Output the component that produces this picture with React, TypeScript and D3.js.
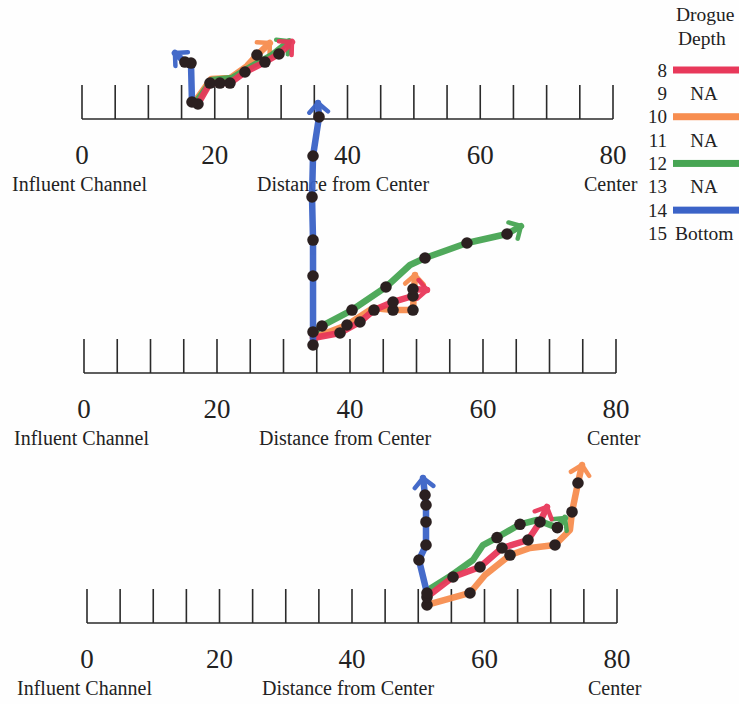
import React from 'react';
import * as d3 from 'd3';

// ---------- data ----------
// x: distance from center scale (0 = influent channel, 80 = center); y: cross distance in same units
// third element 1 = a measured fix (black dot); the last point of each track is the arrow tip
const tickValues = [0, 5, 10, 15, 20, 25, 30, 35, 40, 45, 50, 55, 60, 65, 70, 75, 80];
const tickLabels = [0, 20, 40, 60, 80];

const legendDepths = [8, 9, 10, 11, 12, 13, 14, 15];
const legendEntries = ['8', 'NA', '10', 'NA', '12', 'NA', '14', 'Bottom'];

// Panel 1
const p1Orange = [[17.17, 2.86, 0], [19.43, 6.02, 0], [22.29, 6.17, 0], [24.85, 7.98, 0], [26.36, 9.64, 1], [28.3, 11.45, 0]];
const p1Green = [[17.32, 2.71, 0], [19.58, 5.87, 0], [22.59, 6.17, 0], [25.6, 7.98, 0], [28.61, 9.64, 0], [31.2, 11.7, 0]];
const p1Red = [[17.47, 2.26, 1], [19.28, 5.42, 1], [20.78, 5.42, 1], [22.29, 5.42, 1], [24.55, 7.08, 1], [27.56, 8.58, 1], [29.67, 9.79, 1], [31.63, 11.6, 0]];
const p1Blue = [[16.57, 2.56, 1], [16.42, 8.43, 1], [15.51, 8.58, 1], [14.0, 9.94, 0]];

// Panel 2
const p2Orange = [[34.44, 5.26, 0], [39.55, 7.22, 1], [43.46, 9.77, 0], [46.47, 9.47, 1], [49.47, 9.47, 1], [49.77, 14.74, 0]];
const p2Green = [[34.44, 6.02, 0], [35.79, 7.07, 1], [40.3, 9.47, 1], [45.41, 12.93, 1], [49.02, 16.24, 0], [51.28, 17.29, 1], [57.59, 19.55, 1], [63.61, 20.9, 1], [65.71, 22.1, 0]];
const p2Red = [[34.44, 5.26, 0], [38.5, 6.02, 1], [41.5, 7.67, 1], [43.61, 9.47, 1], [46.47, 10.68, 1], [49.47, 11.58, 1], [49.47, 12.63, 1], [51.58, 12.48, 0]];
const p2Blue = [[34.44, 4.21, 1], [34.44, 6.17, 1], [34.44, 14.59, 1], [34.44, 19.99, 1], [34.29, 26.47, 1], [34.44, 32.63, 1], [35.34, 38.5, 1], [35.19, 40.6, 0]];

// Panel 3
const p3Orange = [[51.32, 2.72, 1], [57.81, 4.53, 1], [60.08, 7.25, 0], [63.85, 10.26, 1], [66.87, 11.32, 0], [70.64, 11.77, 1], [72.9, 14.04, 0], [73.21, 16.76, 1], [74.11, 21.13, 1], [74.72, 23.85, 0]];
const p3Green = [[51.47, 4.98, 0], [55.09, 7.25, 0], [58.26, 9.51, 0], [59.77, 11.77, 0], [61.89, 12.9, 1], [65.36, 14.9, 1], [67.92, 15.55, 0], [71.0, 14.4, 1], [72.15, 15.85, 0]];
const p3Red = [[51.32, 3.92, 1], [55.25, 6.94, 1], [59.32, 8.45, 1], [62.64, 11.32, 1], [66.57, 12.53, 1], [68.38, 15.25, 1], [69.43, 17.51, 0]];
const p3Blue = [[51.32, 4.53, 1], [50.11, 9.51, 1], [51.17, 11.77, 1], [51.17, 15.25, 1], [51.17, 17.81, 1], [51.02, 19.32, 1], [50.72, 21.89, 0]];

// ---------- styles / layout ----------
const COLORS: Record<string, string> = { '8': '#e8385a', '10': '#f78d4f', '12': '#47a553', '14': '#3b63c7' };
const FONT = "'Liberation Serif', 'Times New Roman', serif";
const layouts = [
  { x0: 82, x1: 613, base: 119 },
  { x0: 84, x1: 616, base: 373 },
  { x0: 87, x1: 617, base: 623 },
];
const panelTracks = [
  [{ d: '10', pts: p1Orange }, { d: '12', pts: p1Green }, { d: '8', pts: p1Red }, { d: '14', pts: p1Blue }],
  [{ d: '10', pts: p2Orange }, { d: '12', pts: p2Green }, { d: '8', pts: p2Red }, { d: '14', pts: p2Blue }],
  [{ d: '10', pts: p3Orange }, { d: '12', pts: p3Green }, { d: '8', pts: p3Red }, { d: '14', pts: p3Blue }],
];

function scalesFor(l: { x0: number; x1: number; base: number }) {
  const x = d3.scaleLinear().domain([0, 80]).range([l.x0, l.x1]);
  const k = (l.x1 - l.x0) / 80;
  const y = d3.scaleLinear().domain([0, 50]).range([l.base, l.base - 50 * k]);
  return { x, y };
}

function Axis({ l }: { l: { x0: number; x1: number; base: number } }) {
  const { x } = scalesFor(l);
  return (
    <g>
      <line x1={x(0)} x2={x(80)} y1={l.base} y2={l.base} stroke="#2a2a2a" strokeWidth={1.6} />
      {tickValues.map((t) => (
        <line key={t} x1={x(t)} x2={x(t)} y1={l.base} y2={l.base - 34} stroke="#2a2a2a" strokeWidth={1.6} />
      ))}
      {tickLabels.map((t) => (
        <text key={t} x={x(t)} y={l.base + 45} textAnchor="middle" fontFamily={FONT} fontSize={27} fill="#222">
          {t}
        </text>
      ))}
      <text x={l.x0 - 70} y={l.base + 72} fontFamily={FONT} fontSize={20} fill="#222">Influent Channel</text>
      <text x={l.x0 + 175} y={l.base + 72} fontFamily={FONT} fontSize={20} fill="#222">Distance from Center</text>
      <text x={l.x1 - 29} y={l.base + 72} fontFamily={FONT} fontSize={20} fill="#222">Center</text>
    </g>
  );
}

function Tracks({ l, tracks }: { l: any; tracks: { d: string; pts: number[][] }[] }) {
  const { x, y } = scalesFor(l);
  const line = d3.line<number[]>().x((p) => x(p[0])).y((p) => y(p[1]));
  return (
    <g>
      {tracks.map((t, i) => {
        const n = t.pts.length;
        const a = t.pts[n - 2];
        const b = t.pts[n - 1];
        const ang = Math.atan2(y(b[1]) - y(a[1]), x(b[0]) - x(a[0]));
        const L = 13;
        const tip = [x(b[0]), y(b[1])];
        const arm1 = [tip[0] - L * Math.cos(ang - 0.8), tip[1] - L * Math.sin(ang - 0.8)];
        const arm2 = [tip[0] - L * Math.cos(ang + 0.8), tip[1] - L * Math.sin(ang + 0.8)];
        return (
          <g key={i} stroke={COLORS[t.d]} strokeWidth={6.5} fill="none" strokeLinecap="round" strokeLinejoin="round" opacity={0.95}>
            <path d={line(t.pts) || ''} />
            <path d={`M${arm1[0]},${arm1[1]}L${tip[0]},${tip[1]}L${arm2[0]},${arm2[1]}`} strokeWidth={4.5} />
          </g>
        );
      })}
      {tracks.map((t, i) =>
        t.pts
          .filter((p) => p[2] === 1)
          .map((p, j) => <circle key={`${i}-${j}`} cx={x(p[0])} cy={y(p[1])} r={5.8} fill="#2b2020" />)
      )}
    </g>
  );
}

function Legend() {
  const rowY = d3.scaleLinear().domain([8, 15]).range([70, 233.5]);
  return (
    <g fontFamily={FONT} fill="#222">
      <text x={676} y={21} fontSize={19.5}>Drogue</text>
      <text x={678} y={45} fontSize={19.5}>Depth</text>
      {legendDepths.map((dep, i) => {
        const e = legendEntries[i];
        const cy = rowY(dep);
        return (
          <g key={dep}>
            <text x={667} y={cy + 6.5} textAnchor="end" fontSize={19}>{dep}</text>
            {COLORS[e] ? (
              <rect x={673} y={cy - 3.5} width={70} height={7} fill={COLORS[e]} />
            ) : e === 'NA' ? (
              <text x={704} y={cy + 6.5} textAnchor="middle" fontSize={19}>NA</text>
            ) : (
              <text x={675} y={cy + 6.5} fontSize={19.5}>{e}</text>
            )}
          </g>
        );
      })}
    </g>
  );
}

export default function App() {
  return (
    <svg width={739} height={704} style={{ position: 'absolute', left: 0, top: 0, background: '#fefefe' }}>
      <rect width={739} height={704} fill="#fefefe" />
      {layouts.map((l, i) => <Axis key={i} l={l} />)}
      {layouts.map((l, i) => <Tracks key={i} l={l} tracks={panelTracks[i]} />)}
      <Legend />
    </svg>
  );
}
